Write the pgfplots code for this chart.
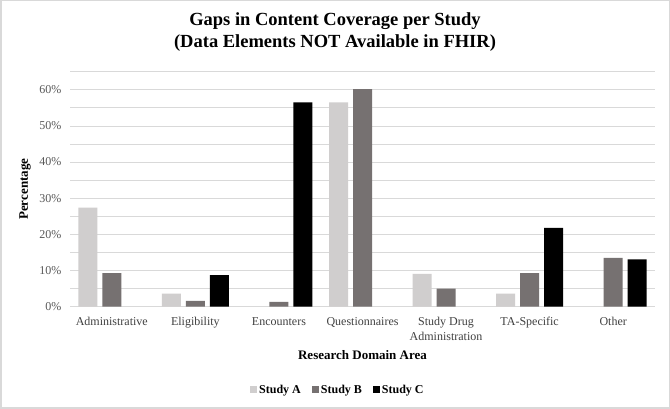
\documentclass[border=0pt]{standalone}
\usepackage{pgfplots}
\pgfplotsset{compat=1.18}
\usepackage{fontspec}
\setmainfont{Liberation Serif}
\definecolor{cA}{HTML}{D0CECE}
\definecolor{cB}{HTML}{767171}
\definecolor{cC}{HTML}{000000}
\definecolor{gridc}{HTML}{D9D9D9}
\definecolor{ticktxt}{HTML}{595959}
\definecolor{cattxt}{HTML}{404040}
\begin{document}
\begin{tikzpicture}[x=1pt,y=1pt]
\useasboundingbox (0,0) rectangle (670,409);
\fill[white] (0,0) rectangle (670,409);
\draw[gridc, line width=1.5pt] (0.75,0.75) rectangle (669.25,408.25);
\node[align=center, font=\bfseries\fontsize{18.5}{22}\selectfont] at (335,377) {Gaps in Content Coverage per Study\\(Data Elements NOT Available in FHIR)};
\begin{axis}[
  at={(70pt,102.3pt)}, anchor=south west,
  scale only axis, width=585pt, height=235pt,
  xmin=-0.5, xmax=6.5, ymin=0, ymax=65,
  ybar=5pt, bar width=19pt,
  axis line style={draw=none},
  tick style={draw=none},
  ymajorgrids, grid style={gridc, line width=0.8pt},
  ytick={0,10,...,60},
  extra y ticks={5,15,25,35,45,55,65},
  extra y tick labels={},
  extra y tick style={grid=major, grid style={gridc, line width=0.8pt}},
  yticklabel={\pgfmathprintnumber{\tick}\%},
  /pgf/number format/assume math mode=true,
  yticklabel style={font=\fontsize{12}{14}\selectfont, text=ticktxt, xshift=-5pt},
  xtick={0,...,6},
  xticklabels={Administrative, Eligibility, Encounters, Questionnaires, {Study Drug\\Administration}, TA-Specific, Other},
  xticklabel style={font=\fontsize{12}{15}\selectfont, text=cattxt, align=center, yshift=-3pt},
  ylabel={Percentage},
  ylabel style={font=\bfseries\fontsize{13}{15}\selectfont, at={(axis description cs:-0.077,0.5)}, anchor=center},
  xlabel={Research Domain Area},
  xlabel style={font=\bfseries\fontsize{13}{15}\selectfont, at={(axis description cs:0.5,-0.207)}, anchor=center},
  legend style={at={(0.458,-0.355)}, anchor=center, legend columns=-1, draw=none,
    font=\bfseries\fontsize{12}{14}\selectfont,
    /tikz/every even column/.append style={column sep=9pt}},
  legend image code/.code={\fill[#1,draw=none] (0pt,-3pt) rectangle (7pt,4pt);},
]
\addplot[fill=cA, draw=none] coordinates {(0,27.4) (1,3.6) (3,56.5) (4,9.1) (5,3.6)};
\addplot[fill=cB, draw=none] coordinates {(0,9.3) (1,1.6) (2,1.3) (3,60.2) (4,5.0) (5,9.3) (6,13.5)};
\addplot[fill=cC, draw=none] coordinates {(1,8.7) (2,56.5) (5,21.8) (6,13.1)};
\legend{Study A, Study B, Study C}
\end{axis}
\end{tikzpicture}
\end{document}
